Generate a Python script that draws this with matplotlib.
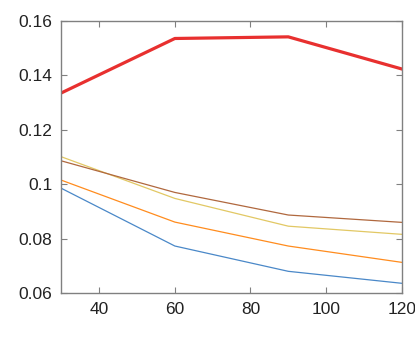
import matplotlib
matplotlib.use("Agg")
import matplotlib.pyplot as plt

x = [30, 60, 90, 120]
series_blue = [0.0985, 0.0773, 0.0680, 0.0636]
series_orange = [0.1015, 0.0861, 0.0773, 0.0713]
series_yellow = [0.1101, 0.0948, 0.0846, 0.0816]
series_brown = [0.1086, 0.0970, 0.0887, 0.0860]
series_red = [0.1336, 0.1536, 0.1542, 0.1424]

xticks = [40, 60, 80, 100, 120]
yticks = [0.06, 0.08, 0.10, 0.12, 0.14, 0.16]
ytick_labels = ["0.06", "0.08", "0.1", "0.12", "0.14", "0.16"]

plt.rcParams['font.family'] = ['Liberation Sans', 'DejaVu Sans']

fig = plt.figure(figsize=(4.15, 3.4), dpi=100)
ax = fig.add_axes([0.148, 0.138, 0.82, 0.80])

ax.plot(x, series_blue, color='#4a88c8', lw=0.9)
ax.plot(x, series_orange, color='#ff8c1e', lw=0.9)
ax.plot(x, series_yellow, color='#e2c864', lw=0.9)
ax.plot(x, series_brown, color='#b0683e', lw=0.9)
ax.plot(x, series_red, color='#e8302f', lw=2.3)

ax.set_xlim(30, 120)
ax.set_ylim(0.06, 0.16)
ax.set_xticks(xticks)
ax.set_xticklabels([str(t) for t in xticks])
ax.set_yticks(yticks)
ax.set_yticklabels(ytick_labels)

for s in ax.spines.values():
    s.set_color('#808080')
    s.set_linewidth(1.0)
ax.tick_params(direction='in', length=4, width=0.8, color='#808080',
               labelsize=12.5, labelcolor='#222222', top=True, right=True, pad=6.5)

fig.savefig('out.png', dpi=100)
